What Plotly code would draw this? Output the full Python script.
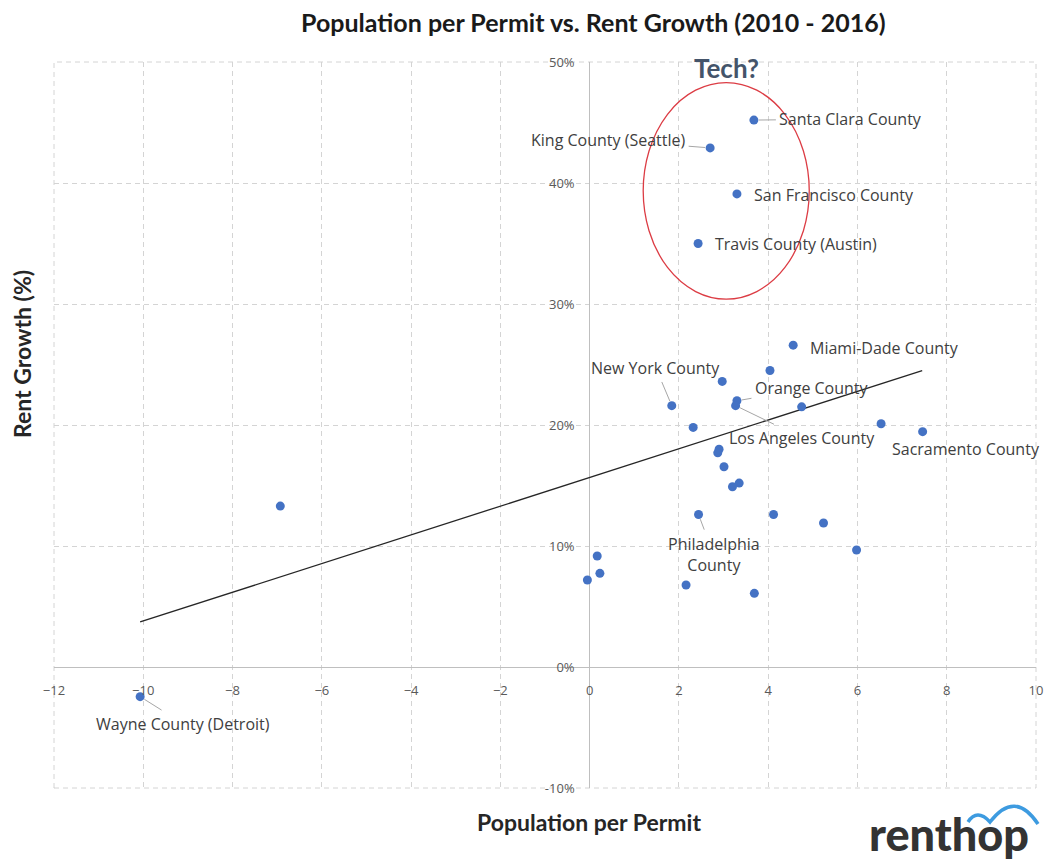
import plotly.graph_objects as go

# ---------------- data ----------------
pop_per_permit = [3.68, 2.70, 3.30, 2.43, 4.56, 4.04, 1.84, 2.97, 3.30, 3.27,
                  4.75, 2.32, 6.53, 7.46, 2.90, 2.87, 3.01, 3.20, 3.35, 2.44,
                  4.12, 5.24, 5.98, 0.17, 0.23, -0.05, 2.16, 3.69, -6.93, -10.07]
rent_growth = [45.2, 42.9, 39.1, 35.0, 26.6, 24.5, 21.6, 23.6, 22.0, 21.6,
               21.5, 19.8, 20.1, 19.45, 18.0, 17.7, 16.55, 14.9, 15.2, 12.6,
               12.6, 11.9, 9.67, 9.17, 7.74, 7.19, 6.78, 6.09, 13.3, -2.45]

trend_x = [-10.07, 7.45]
trend_y = [3.72, 24.5]

# labelled counties: (name, index into data arrays)
label_names = ["Santa Clara County", "King County (Seattle)", "San Francisco County",
               "Travis County (Austin)", "Miami-Dade County", "New York County",
               "Orange County", "Los Angeles County", "Sacramento County",
               "Philadelphia<br>County", "Wayne County (Detroit)"]
label_index = [0, 1, 2, 3, 4, 6, 8, 9, 13, 19, 29]

x_ticks = [-12, -10, -8, -6, -4, -2, 0, 2, 4, 6, 8, 10]
y_ticks = [-10, 0, 10, 20, 30, 40, 50]
y_tick_text = ["-10%", "0%", "10%", "20%", "30%", "40%", "50%"]

title_text = "Population per Permit vs. Rent Growth (2010 - 2016)"
x_title = "Population per Permit"
y_title = "Rent Growth (%)"

# ---------------- styling / placement ----------------
TFONT = "Lato"
LFONT = "Open Sans"
LABEL_COLOR = "#404040"
LEADER = "#A6A6A6"
GRID = "#D4D4D4"

# label placement: (arrow?, dx, dy) in pixels relative to the point (dy down)
label_place = [
    (True, 97, -1), (True, -102, -8), (False, 15, 1), (False, 15, 0),
    (False, 15, 3), (True, -16, -38), (True, 75, -13), (True, 66, 32),
    (False, -33, 17), (True, 15, 40), (True, 43, 27),
]

W, H = 1045, 863
ML, MR, MT, MB = 54, 9, 62, 75
PW, PH = W - ML - MR, H - MT - MB


def px_to_paper(px, py):
    return (px - ML) / PW, (H - MB - py) / PH


fig = go.Figure()

fig.add_trace(go.Scatter(x=trend_x, y=trend_y, mode="lines",
                         line=dict(color="#262626", width=1.3),
                         hoverinfo="skip", showlegend=False))
fig.add_trace(go.Scatter(x=pop_per_permit, y=rent_growth, mode="markers",
                         marker=dict(color="#4472C4", size=9),
                         showlegend=False))

annotations = []
for name, idx, (arrow, dx, dy) in zip(label_names, label_index, label_place):
    base = dict(x=pop_per_permit[idx], y=rent_growth[idx], xref="x", yref="y",
                text=name, font=dict(family=LFONT, size=16, color=LABEL_COLOR))
    if arrow:
        base.update(showarrow=True, ax=dx, ay=dy, arrowhead=0, arrowwidth=1,
                    arrowcolor=LEADER, standoff=5, startstandoff=2)
    else:
        base.update(showarrow=False, xanchor="left", xshift=dx, yshift=-dy)
    annotations.append(base)


def paper_text(px, py, text, size, color, angle=0, weight=None):
    x, y = px_to_paper(px, py)
    f = dict(family=TFONT, size=size, color=color)
    if weight:
        f["weight"] = weight
    return dict(x=x, y=y, xref="paper", yref="paper", showarrow=False,
                xanchor="center", yanchor="middle", text=text, textangle=angle,
                font=f)


annotations.append(paper_text(593, 22, "<b>" + title_text + "</b>", 25, "#1a1a1a"))
annotations.append(paper_text(589, 822, "<b>" + x_title + "</b>", 23, "#262626"))
annotations.append(paper_text(22, 354, "<b>" + y_title + "</b>", 23, "#262626", angle=-90))
annotations.append(paper_text(726, 68, "<b>Tech?</b>", 26, "#44546A"))
annotations.append(paper_text(949, 834, "renthop", 45, "#333333", weight=900))

shapes = [
    # dashed frame of the plotting area
    dict(type="rect", xref="paper", yref="paper", x0=0, x1=1, y0=0, y1=1,
         line=dict(color=GRID, width=1, dash="5px,4px"), layer="below"),
]

# red ellipse around the tech counties (data coords)
ell_x = [1.20, 4.92]
ell_y = [30.4, 48.3]
shapes.append(dict(type="circle", xref="x", yref="y", x0=ell_x[0], x1=ell_x[1],
                   y0=ell_y[0], y1=ell_y[1], line=dict(color="#DC3C44", width=1.3)))

# logo swoosh
pts = [(968, 822), (977, 814), (990, 822), (1015, 804), (1038, 824)]
pp = [px_to_paper(*p) for p in pts]
path = (f"M {pp[0][0]},{pp[0][1]} Q {pp[1][0]},{pp[1][1] + 0.008} {pp[2][0]},{pp[2][1]} "
        f"Q {pp[3][0]},{pp[3][1] + 0.02} {pp[4][0]},{pp[4][1]}")
shapes.append(dict(type="path", xref="paper", yref="paper", path=path,
                   line=dict(color="#3D9BE0", width=3.5)))

fig.update_layout(
    width=W, height=H, autosize=False,
    margin=dict(l=ML, r=MR, t=MT, b=MB, autoexpand=False),
    paper_bgcolor="white", plot_bgcolor="white",
    font=dict(family=LFONT, color="#595959"),
    annotations=annotations, shapes=shapes,
    xaxis=dict(range=[-12, 10], tickvals=x_ticks, showgrid=True,
               gridcolor=GRID, griddash="5px,4px", gridwidth=1,
               zeroline=True, zerolinecolor="#BFBFBF", zerolinewidth=1.2,
               anchor="free", position=10 / 60, showline=False, automargin=False,
               ticks="", ticklabelstandoff=14,
               tickfont=dict(family=LFONT, size=13, color="#595959")),
    yaxis=dict(range=[-10, 50], tickvals=y_ticks, ticktext=y_tick_text,
               showgrid=True, gridcolor=GRID, griddash="5px,4px", gridwidth=1,
               zeroline=True, zerolinecolor="#BFBFBF", zerolinewidth=1.2,
               anchor="free", position=12 / 22, showline=False, automargin=False,
               ticks="", ticklabelstandoff=15,
               tickfont=dict(family=LFONT, size=13, color="#595959")),
)

fig.write_html("out.html")
